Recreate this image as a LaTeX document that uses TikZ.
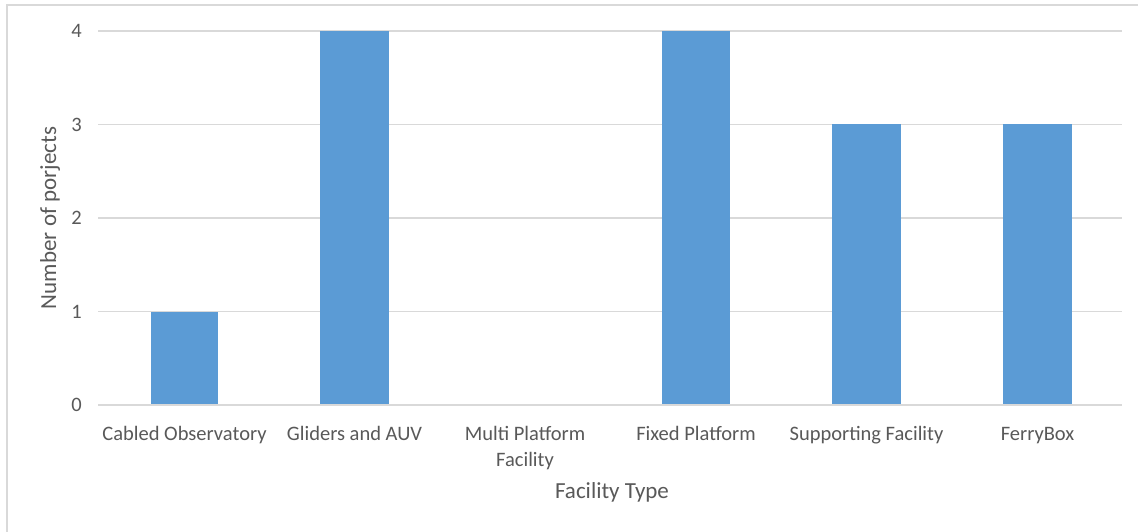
\documentclass[tikz,border=0pt]{standalone}
\usepackage{fontspec}
\setmainfont{Carlito}
\definecolor{txt}{HTML}{595959}
\definecolor{grid}{HTML}{D9D9D9}
\definecolor{bar}{HTML}{5B9BD5}
\begin{document}
\begin{tikzpicture}[x=1pt,y=-1pt,
  lab/.style={text=txt,font=\fontsize{20.5}{26}\selectfont,inner sep=0pt},
  ttl/.style={text=txt,font=\fontsize{23}{28}\selectfont,inner sep=0pt},
  gridline/.style={draw=grid,line width=1.3pt},
  barbox/.style={fill=bar,draw=none}]
\useasboundingbox (0,0) rectangle (1138,532);
\fill[white] (0,0) rectangle (1138,532);
% outer frame
\draw[grid,line width=1.5pt] (7,540) -- (7,5) -- (1145,5);
% gridlines
\foreach \v in {1,2,3,4} {
  \draw[gridline] (98,{405-93.5*\v}) -- (1122,{405-93.5*\v});
}
% bars
\fill[barbox] (151,405) rectangle (218,311.5);
\fill[barbox] (320,405) rectangle (389,31);
\fill[barbox] (662,405) rectangle (730,31);
\fill[barbox] (832,405) rectangle (901,124.5);
\fill[barbox] (1003,405) rectangle (1072,124.5);
% axis
\draw[gridline] (98,405) -- (1122,405);
% tick labels
\foreach \v/\n in {0/t0,1/t1,2/t2,3/t3,4/t4} {
  \node[lab,anchor=east] (\n) at (82,{405-93.5*\v}) {\v};
}
% category labels
\node[lab,anchor=base] (c1) at (184.5,440) {Cabled Observatory};
\node[lab,anchor=base] (c2) at (354.5,440) {Gliders and AUV};
\node[lab,anchor=base,align=center] (c3) at (525,466) {Multi Platform\\Facility};
\node[lab,anchor=base] (c4) at (696,440) {Fixed Platform};
\node[lab,anchor=base] (c5) at (866.5,440) {Supporting Facility};
\node[lab,anchor=base] (c6) at (1037.5,440) {FerryBox};
% axis titles
\node[ttl,rotate=90] (ytitle) at (50,218) {Number of porjects};
\node[ttl] (xtitle) at (612,492) {Facility Type};
\end{tikzpicture}
\end{document}
